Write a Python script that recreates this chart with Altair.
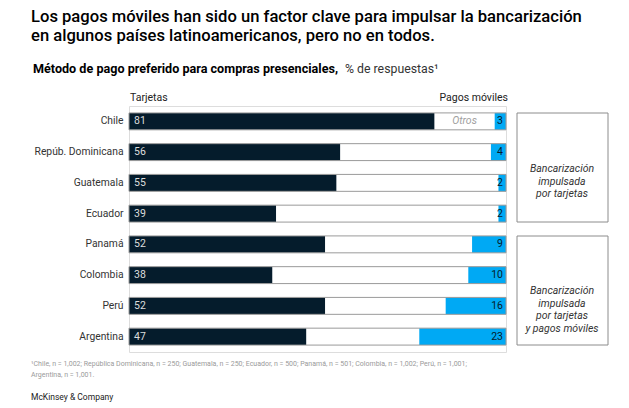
import altair as alt
import pandas as pd

FONT = "Roboto"

countries = ["Chile", "Repúb. Dominicana", "Guatemala", "Ecuador",
             "Panamá", "Colombia", "Perú", "Argentina"]
tarjetas = [81, 56, 55, 39, 52, 38, 52, 47]
moviles = [3, 4, 2, 2, 9, 10, 16, 23]
otros_label = ["Otros", "", "", "", "", "", "", ""]

title_lines = ["Los pagos móviles han sido un factor clave para impulsar la bancarización",
               "en algunos países latinoamericanos, pero no en todos."]
subtitle_bold = "Método de pago preferido para compras presenciales,"
subtitle_rest = "% de respuestas¹"
left_header = "Tarjetas"
right_header = "Pagos móviles"
box1_text = ["Bancarización", "impulsada", "por tarjetas"]
box2_text = ["Bancarización", "impulsada", "por tarjetas", "y pagos móviles"]
footnote = ["¹Chile, n = 1,002; República Dominicana, n = 250; Guatemala, n = 250; Ecuador, n = 500; Panamá, n = 501; Colombia, n = 1,002; Perú, n = 1,001;",
            " Argentina, n = 1,001."]
source = "McKinsey & Company"

DARK = "#051c2c"
BLUE = "#00a9f4"

df = pd.DataFrame({
    "pais": countries,
    "tarjetas": tarjetas,
    "moviles": moviles,
    "otros": otros_label,
})

W, H = 377, 246

base = alt.Chart(df).transform_calculate(
    zero="0", full="100",
    mstart="100 - datum.moviles",
    omid="(datum.tarjetas + 100 - datum.moviles) / 2",
)

xs = alt.Scale(domain=[0, 100], nice=False, zero=True)
ys = alt.Scale(domain=countries, paddingInner=0.45, paddingOuter=0.225)
yenc = alt.Y("pais:N", scale=ys, sort=countries,
             axis=alt.Axis(title=None, ticks=False, domain=False, labelPadding=6,
                           labelFontSize=10.3, labelColor="#333333", labelFont=FONT))

bg = base.mark_bar(color="white").encode(
    x=alt.X("zero:Q", scale=xs, axis=None), x2="full:Q", y=yenc)
dark = base.mark_bar(color=DARK).encode(
    x=alt.X("zero:Q", scale=xs, axis=None), x2="tarjetas:Q", y=yenc)
blue = base.mark_bar(color=BLUE).encode(
    x=alt.X("mstart:Q", scale=xs, axis=None), x2="full:Q", y=yenc)
outline = base.mark_bar(fillOpacity=0, stroke="#9a9a9a", strokeWidth=1).encode(
    x=alt.X("zero:Q", scale=xs, axis=None), x2="full:Q", y=yenc)

ltxt = base.mark_text(align="left", baseline="middle", dx=5, fontSize=10.5,
                      font=FONT, color="#dcdcdc").encode(
    x=alt.X("zero:Q", scale=xs, axis=None), y=yenc, text="tarjetas:Q")
rtxt = base.mark_text(align="right", baseline="middle", dx=-3, fontSize=10.5,
                      font=FONT, color=DARK).encode(
    x=alt.X("full:Q", scale=xs, axis=None), y=yenc, text="moviles:Q")
otxt = base.mark_text(align="center", baseline="middle", fontSize=10.5,
                      font=FONT, fontStyle="italic", color="#a0a0a0").encode(
    x=alt.X("omid:Q", scale=xs, axis=None), y=yenc, text="otros:N")

one = pd.DataFrame({"k": [0]})


def label(txt, x, y, size=10.5, weight="normal", color="#000000", align="left",
          style="normal", baseline="alphabetic", line_height=None):
    kw = dict(align=align, baseline=baseline, fontSize=size, fontWeight=weight,
              color=color, font=FONT, fontStyle=style)
    if line_height is not None:
        kw["lineHeight"] = line_height
    return alt.Chart(one).mark_text(**kw).encode(
        x=alt.value(x), y=alt.value(y), text=alt.value(txt))


def box(x0, x1, y0, y1):
    return alt.Chart(one).mark_rect(fillOpacity=0, stroke="#8c8c8c", strokeWidth=1).encode(
        x=alt.value(x0), x2=alt.value(x1), y=alt.value(y0), y2=alt.value(y1))


OX, OY = 129, 106  # page position of plot origin

layers = [
    bg, dark, blue, outline, ltxt, rtxt, otxt,
    label(title_lines[0], 31 - OX, 22 - OY, size=16.6, weight=500, color="#000000"),
    label(title_lines[1], 31 - OX, 41 - OY, size=16.6, weight=500, color="#000000"),
    label(subtitle_bold, 33 - OX, 73 - OY, size=12.6, weight="bold", color="#000000"),
    label(subtitle_rest, 345 - OX, 73 - OY, size=12.3, color="#333333"),
    label(left_header, 130 - OX, 101 - OY, size=10.5, color="#222222"),
    label(right_header, 508 - OX, 101 - OY, size=10.5, color="#222222", align="right"),
    box(517 - OX, 608 - OX, 113 - OY, 222 - OY),
    box(517 - OX, 608 - OX, 236 - OY, 345 - OY),
    label(box1_text, 562 - OX, 169 - OY, size=10.5, style="italic", color="#333333",
          align="center", baseline="middle", line_height=12.5),
    label(box2_text, 562 - OX, 291 - OY, size=10.5, style="italic", color="#333333",
          align="center", baseline="middle", line_height=12.5),
    label(footnote[0], 31 - OX, 366 - OY, size=7, color="#9a9a9a"),
    label(footnote[1], 31 - OX, 377 - OY, size=7, color="#9a9a9a"),
    label(source, 31 - OX, 400 - OY, size=8.5, color="#222222"),
]

chart = alt.layer(*layers).properties(
    width=W, height=H,
    autosize=alt.AutoSizeParams(type="none"),
    padding={"left": OX - 8, "top": OY - 8, "right": 629 - 8 - (OX - 8) - W - 8,
             "bottom": 408 - (OY - 8) - H},
).configure_view(stroke=None).configure(background="white")

chart.save("out.html", embed_options={"renderer": "svg", "actions": False})
